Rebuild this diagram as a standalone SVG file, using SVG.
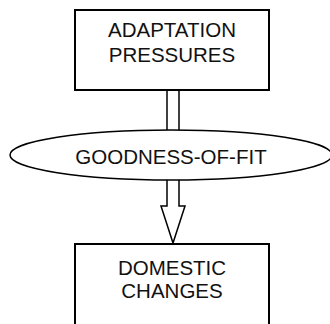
<svg xmlns="http://www.w3.org/2000/svg" width="330" height="324" viewBox="0 0 330 324">
<style>
.box{fill:#fff;stroke:#000;stroke-width:2}
.ell{fill:#fff;stroke:#000;stroke-width:1.5}
.con{fill:#fff;stroke:#000;stroke-width:1.5}
text{font-family:"Liberation Sans",Arial,sans-serif;font-size:20.5px;fill:#111;text-anchor:middle}
</style>
<rect width="330" height="324" fill="#fff"/>
<g id="adaptation">
<rect class="box" x="75" y="10" width="194" height="80"/>
<text x="172" y="37">ADAPTATION</text>
<text x="172" y="62">PRESSURES</text>
</g>
<g id="domestic">
<rect class="box" x="75" y="244" width="194" height="100"/>
<text x="172" y="275">DOMESTIC</text>
<text x="172" y="298">CHANGES</text>
</g>
<g id="connectors">
<line class="con" x1="167" y1="90" x2="167" y2="131"/>
<line class="con" x1="179" y1="90" x2="179" y2="131"/>
<path class="con" d="M167,179 L167,206 L161,206 L173,243 L185,206 L179,206 L179,179"/>
</g>
<g id="goodness">
<ellipse class="ell" cx="171" cy="155" rx="161" ry="25"/>
<text x="171" y="164">GOODNESS-OF-FIT</text>
</g>
</svg>
